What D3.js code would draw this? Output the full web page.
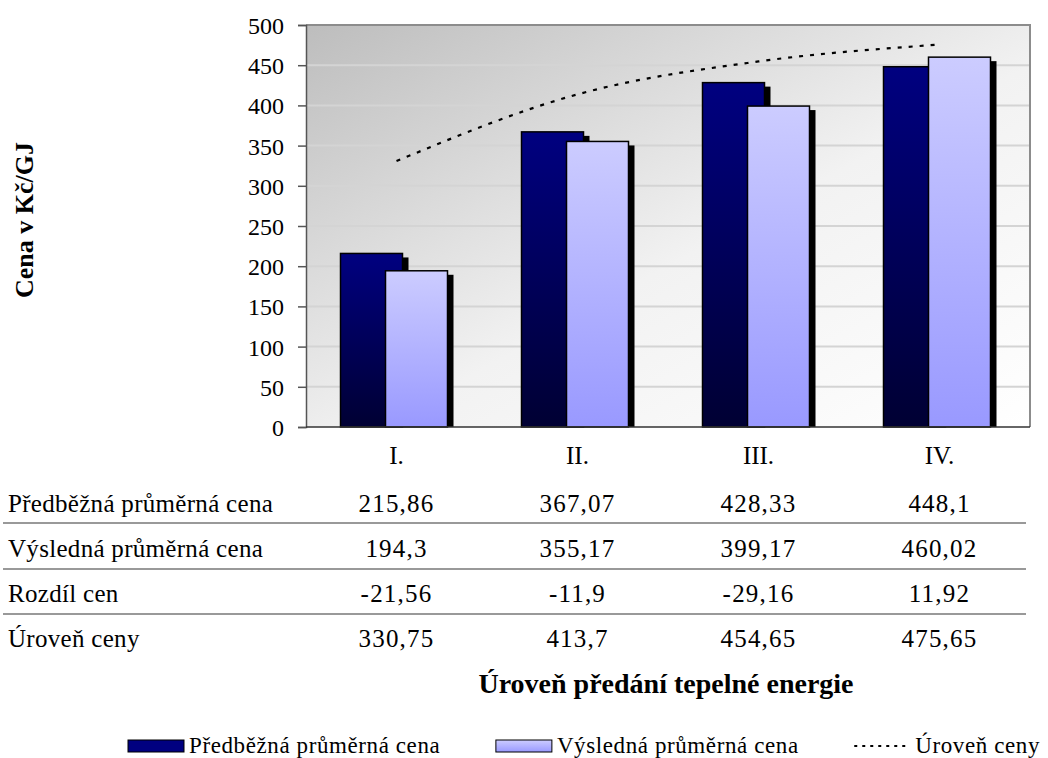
<!DOCTYPE html>
<html>
<head>
    <meta http-equiv="content-type" content="text/html; charset=utf-8" />
    <style>
        body { margin: 0; background: #fff; }
    </style>
</head>
<body>
<svg width="1048" height="758"></svg>
<script src="https://d3js.org/d3.v7.min.js"></script>
<script>
    // data
    const categories = ['I.', 'II.', 'III.', 'IV.']
    const predbezna = [215.86, 367.07, 428.33, 448.1]
    const vysledna = [194.3, 355.17, 399.17, 460.02]
    const rozdil = [-21.56, -11.9, -29.16, 11.92]
    const uroven = [330.75, 413.7, 454.65, 475.65]
    const yTicks = [0, 50, 100, 150, 200, 250, 300, 350, 400, 450, 500]
    const rowNames = ['Předběžná průměrná cena', 'Výsledná průměrná cena', 'Rozdíl cen', 'Úroveň ceny']
    const rows = [predbezna, vysledna, rozdil, uroven]

    const serif = '"Liberation Serif", "Times New Roman", serif'
    const svg = d3.select('svg').style('font-family', serif)
    const pLeft = 306, pRight = 1030, pTop = 25, pBottom = 427

    const x = d3.scaleBand().domain(categories).range([pLeft, pRight])
    const y = d3.scaleLinear().domain([0, 500]).range([pBottom, pTop])

    const defs = svg.append('defs')
    const bg = defs.append('linearGradient').attr('id', 'bg')
        .attr('x1', 0).attr('y1', 0).attr('x2', 1).attr('y2', 1)
    bg.append('stop').attr('offset', '0%').attr('stop-color', '#bdbdbd')
    bg.append('stop').attr('offset', '55%').attr('stop-color', '#f2f2f2')
    bg.append('stop').attr('offset', '100%').attr('stop-color', '#ffffff')

    const gDark = defs.append('linearGradient').attr('id', 'gDark')
        .attr('x1', 0).attr('y1', 0).attr('x2', 0).attr('y2', 1)
    gDark.append('stop').attr('offset', '0%').attr('stop-color', '#000080')
    gDark.append('stop').attr('offset', '100%').attr('stop-color', '#000033')

    const gLight = defs.append('linearGradient').attr('id', 'gLight')
        .attr('x1', 0).attr('y1', 0).attr('x2', 0).attr('y2', 1)
    gLight.append('stop').attr('offset', '0%').attr('stop-color', '#ccccff')
    gLight.append('stop').attr('offset', '100%').attr('stop-color', '#9999ff')

    // plot area
    svg.append('rect')
        .attr('x', pLeft).attr('y', pTop)
        .attr('width', pRight - pLeft).attr('height', pBottom - pTop)
        .attr('fill', 'url(#bg)')

    svg.append('g').selectAll('line')
        .data(yTicks.slice(1))
        .join('line')
        .attr('x1', pLeft).attr('x2', pRight)
        .attr('y1', d => y(d)).attr('y2', d => y(d))
        .attr('stroke', '#d4d4d4').attr('stroke-width', 2)

    svg.append('path')
        .attr('d', `M${pLeft},${pTop}H${pRight}V${pBottom}`)
        .attr('fill', 'none').attr('stroke', '#8c8c8c').attr('stroke-width', 2)

    // bars
    const bw = 62
    const cx = d => x(d) + x.bandwidth() / 2
    const series = [
        { vals: predbezna, fill: 'url(#gDark)', dx: -56 },
        { vals: vysledna, fill: 'url(#gLight)', dx: -11 }
    ]
    series.forEach(s => {
        const g = svg.append('g')
        categories.forEach((c, i) => {
            const bx = cx(c) + s.dx
            const by = y(s.vals[i])
            g.append('rect')
                .attr('x', bx + 6).attr('y', by + 4)
                .attr('width', bw).attr('height', pBottom - by - 4)
                .attr('fill', '#000')
            g.append('rect')
                .attr('x', bx).attr('y', by)
                .attr('width', bw).attr('height', pBottom - by)
                .attr('fill', s.fill)
                .attr('stroke', '#000').attr('stroke-width', 1.5)
        })
    })

    // level line
    const line = d3.line()
        .x((d, i) => cx(categories[i]))
        .y(d => y(d))
        .curve(d3.curveMonotoneX)
    svg.append('path')
        .attr('d', line(uroven))
        .attr('fill', 'none')
        .attr('stroke', '#000')
        .attr('stroke-width', 2.2)
        .attr('stroke-dasharray', '4,7')

    // axes
    const yAxis = svg.append('g')
        .attr('transform', `translate(${pLeft},0)`)
        .call(d3.axisLeft(y).tickValues(yTicks).tickSize(8).tickPadding(14))
    yAxis.select('.domain').attr('stroke', '#555').attr('stroke-width', 1.5)
    yAxis.selectAll('.tick line').attr('stroke', '#555').attr('stroke-width', 1.5)
    yAxis.selectAll('.tick text')
        .style('font-family', serif)
        .style('font-size', '24px')
        .attr('fill', '#000')
        .attr('dy', '0.35em')

    svg.append('line')
        .attr('x1', pLeft).attr('x2', pRight)
        .attr('y1', pBottom).attr('y2', pBottom)
        .attr('stroke', '#333').attr('stroke-width', 1.5)

    svg.append('g').selectAll('text')
        .data(categories)
        .join('text')
        .attr('x', d => cx(d))
        .attr('y', 464)
        .attr('text-anchor', 'middle')
        .style('font-size', '25px')
        .text(d => d)

    // data table
    const rowY = [512, 557, 602, 647]
    const fmt = v => String(v).replace('.', ',')
    rows.forEach((r, i) => {
        svg.append('text')
            .attr('x', 8).attr('y', rowY[i])
            .style('font-size', '25px')
            .style('letter-spacing', '0.3px')
            .text(rowNames[i])
        svg.append('g').selectAll('text')
            .data(r)
            .join('text')
            .attr('x', (d, j) => cx(categories[j]))
            .attr('y', rowY[i])
            .attr('text-anchor', 'middle')
            .style('font-size', '25px')
            .style('letter-spacing', '1.2px')
            .text(d => fmt(d))
    })
    svg.append('g').selectAll('line')
        .data([523, 569, 614])
        .join('line')
        .attr('x1', 3).attr('x2', 1026)
        .attr('y1', d => d).attr('y2', d => d)
        .attr('stroke', '#777').attr('stroke-width', 1.5)

    // titles
    svg.append('text')
        .attr('x', 666).attr('y', 693)
        .attr('text-anchor', 'middle')
        .style('font-size', '28px').style('font-weight', 'bold')
        .text('Úroveň předání tepelné energie')

    svg.append('text')
        .attr('transform', 'translate(33,220) rotate(-90)')
        .attr('text-anchor', 'middle')
        .style('font-size', '26px').style('font-weight', 'bold')
        .text('Cena v Kč/GJ')

    // legend, laid out left to right from 128 to about 1040
    const ly = 746
    const legItems = [
        { kind: 'rect', fill: '#000080' },
        { kind: 'text', label: 'Předběžná průměrná cena' },
        { kind: 'rect', fill: 'url(#gLight)' },
        { kind: 'text', label: 'Výsledná průměrná cena' },
        { kind: 'dots' },
        { kind: 'text', label: 'Úroveň ceny' }
    ]
    const leg = svg.append('g')
    const mw = 56
    const nodes = legItems.map(it => {
        if (it.kind === 'text') {
            const t = leg.append('text').attr('y', ly + 7)
                .style('font-size', '23px').style('letter-spacing', '0.6px')
                .text(it.label)
            return { it, el: t, w: t.node().getComputedTextLength() }
        }
        if (it.kind === 'rect') {
            const r = leg.append('rect').attr('y', ly - 6).attr('width', mw).attr('height', 12)
                .attr('fill', it.fill).attr('stroke', '#000')
            return { it, el: r, w: mw }
        }
        const l = leg.append('line').attr('y1', ly).attr('y2', ly)
            .attr('stroke', '#000').attr('stroke-width', 2).attr('stroke-dasharray', '3,5')
        return { it, el: l, w: mw }
    })
    const startX = 128, endX = 1040
    const free = endX - startX - d3.sum(nodes, n => n.w) - 3 * 5
    const gaps = [5, free / 2, 5, free / 2, 5]
    let px = startX
    nodes.forEach((n, i) => {
        if (n.it.kind === 'dots') n.el.attr('x1', px).attr('x2', px + n.w)
        else n.el.attr('x', px)
        px += n.w + (gaps[i] || 0)
    })
</script>
</body>
</html>
